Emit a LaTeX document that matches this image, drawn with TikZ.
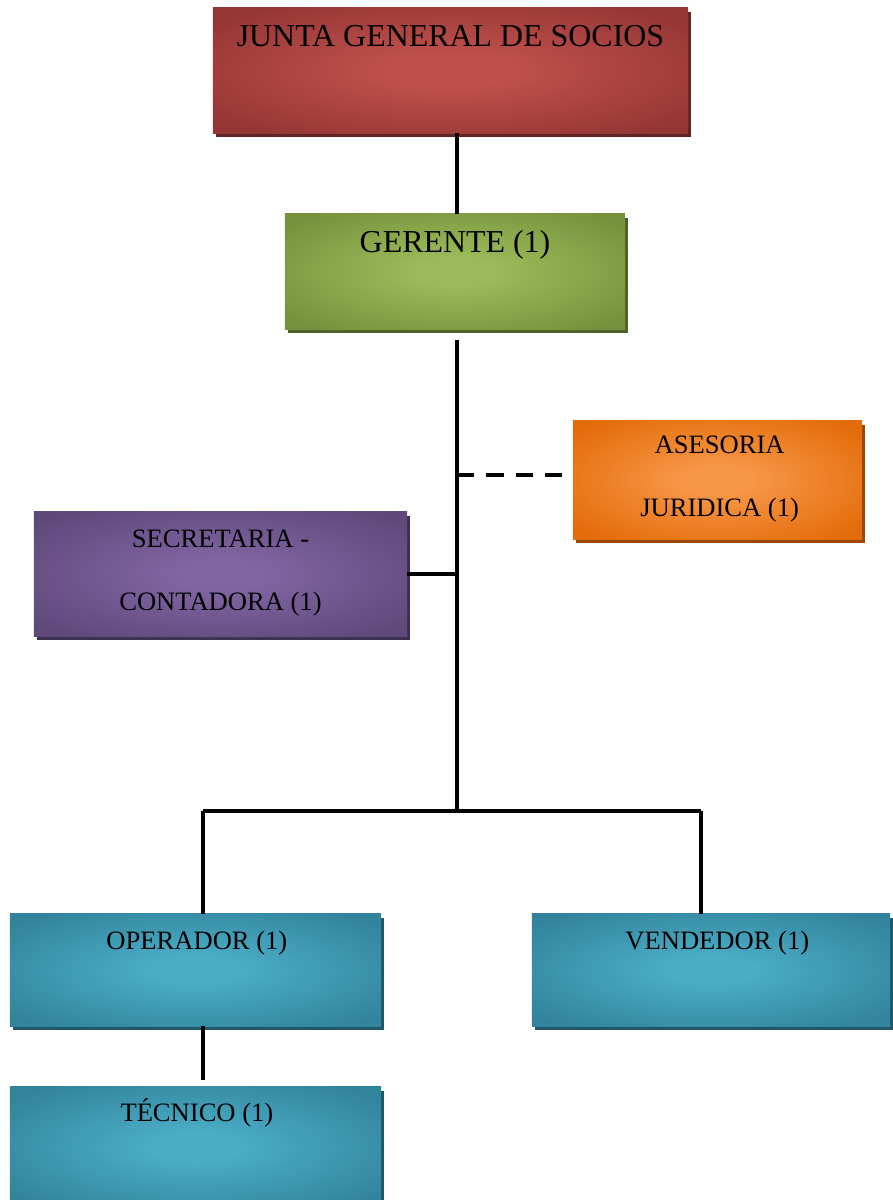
\documentclass[tikz,border=0pt]{standalone}
\usepackage{fontspec}
\setmainfont{Liberation Serif}
\usetikzlibrary{shadows}

\definecolor{juntac}{HTML}{C0504D}
\definecolor{juntab}{HTML}{943634}
\definecolor{juntas}{HTML}{632523}
\definecolor{gerc}{HTML}{9BBB59}
\definecolor{gerb}{HTML}{76923C}
\definecolor{gers}{HTML}{4F6228}
\definecolor{asec}{HTML}{F79646}
\definecolor{aseb}{HTML}{E36C0A}
\definecolor{ases}{HTML}{974806}
\definecolor{secc}{HTML}{8064A2}
\definecolor{secb}{HTML}{5F497A}
\definecolor{secs}{HTML}{3F3151}
\definecolor{opc}{HTML}{4BACC6}
\definecolor{opb}{HTML}{31849B}
\definecolor{ops}{HTML}{205867}

\pgfdeclareradialshading[glowin,glowout]{glow}{\pgfpoint{0bp}{0bp}}{color(0bp)=(glowin); color(6bp)=(glowin); color(32bp)=(glowout); color(80bp)=(glowout)}

\begin{document}
\begin{tikzpicture}
	[x=0.025cm,y=-0.025cm,line width=2.2pt,
	 unit/.style n args={3}{rectangle, outer sep=0pt, /utils/exec={\colorlet{glowin}{#1}\colorlet{glowout}{#2}}, shading=glow,
	   drop shadow={fill=#3, opacity=1, shadow xshift=2.2pt, shadow yshift=-2.8pt}},
	 big/.style={font=\fontsize{22.7}{26}\selectfont, anchor=base},
	 small/.style={font=\fontsize{18.9}{22}\selectfont, anchor=base}]
	\useasboundingbox (0,0) rectangle (892,1200);
	\node[unit={juntac}{juntab}{juntas}, minimum width=11.875cm, minimum height=3.125cm,
	  label={[big,yshift=-27.7pt]north:JUNTA GENERAL DE SOCIOS}] (junta) at (450.5,70.5) {};
	\node[unit={gerc}{gerb}{gers}, minimum width=8.5cm, minimum height=2.875cm,
	  label={[big,yshift=-27.7pt]north:GERENTE (1)}] (gerente) at (455,271.5) {};
	\node[unit={asec}{aseb}{ases}, minimum width=7.225cm, minimum height=2.95cm,
	  label={[small,yshift=-22.8pt,xshift=1.5pt]north:ASESORIA},
	  label={[small,yshift=-67.6pt,xshift=1.5pt]north:JURIDICA (1)}] (asesoria) at (717.5,480) {};
	\node[unit={secc}{secb}{secs}, minimum width=9.325cm, minimum height=3.1cm,
	  label={[small,yshift=-24.9pt]north:SECRETARIA -},
	  label={[small,yshift=-69.7pt]north:CONTADORA (1)}] (secretaria) at (220.5,574) {};
	\node[unit={opc}{opb}{ops}, minimum width=9.275cm, minimum height=2.8cm,
	  label={[small,yshift=-24.9pt,xshift=1pt]north:OPERADOR (1)}] (operador) at (195.5,970) {};
	\node[unit={opc}{opb}{ops}, minimum width=8.95cm, minimum height=2.8cm,
	  label={[small,yshift=-24.9pt,xshift=4.5pt]north:VENDEDOR (1)}] (vendedor) at (711,970) {};
	\node[unit={opc}{opb}{ops}, minimum width=9.275cm, minimum height=3cm,
	  label={[small,yshift=-24.2pt,xshift=1pt]north:TÉCNICO (1)}] (tecnico) at (195.5,1147) {};

	\coordinate (spine) at (457,340);
	\coordinate (fork) at (457,811);
	\coordinate (dash) at (457,475);
	\coordinate (left) at (203,811);
	\coordinate (right) at (701,811);

	\draw (junta.south -| spine) -- (gerente.north -| spine);
	\draw (spine) -- (fork);
	\draw[dash pattern=on 12.3pt off 8.5pt] (dash) -- ([xshift=-7.8pt]asesoria.west |- dash);
	\draw (secretaria.east) -- (secretaria.east -| spine);
	\draw (left) -- (right);
	\draw (left) -- (left |- operador.north);
	\draw (right) -- (right |- vendedor.north);
	\draw (left |- operador.south) -- ++(0,54);
\end{tikzpicture}
\end{document}
